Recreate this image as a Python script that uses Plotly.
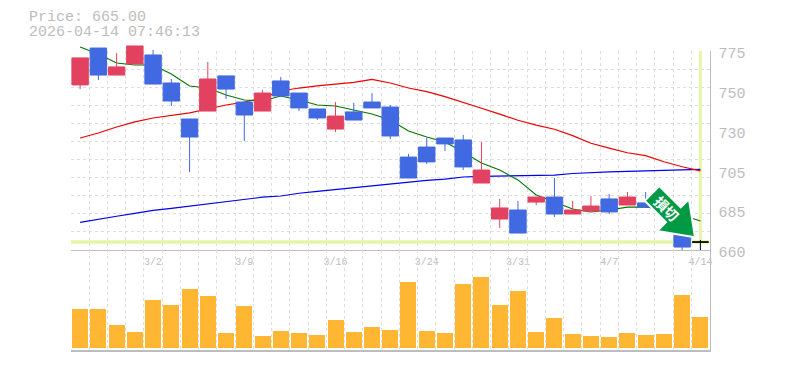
import plotly.graph_objects as go

dates = ["2/24","2/25","2/26","2/27","3/2","3/3","3/4","3/5","3/6","3/9","3/10","3/11","3/12","3/13","3/16","3/17","3/18","3/19","3/23","3/24","3/25","3/26","3/27","3/30","3/31","4/1","4/2","4/3","4/6","4/7","4/8","4/9","4/10","4/13","4/14"]
open_ = [755.4,776.7,761.1,767.5,772.7,756.5,735.7,740.3,760.6,745.5,740.3,757.7,750.7,741.5,729.9,739.8,745.5,742.6,713.7,719.5,724.7,723.6,698.7,677.9,683.1,687.7,690.6,680.8,682.5,689.5,686.0,687.2,688.9,669.2,664.6]
high = [771.0,776.7,773.8,777.9,775.6,758.8,735.7,768.6,760.6,745.5,752.5,760.0,750.7,741.5,745.5,745.0,750.7,743.8,715.5,724.7,724.7,726.5,722.4,689.5,688.3,690.6,701.6,688.3,691.2,692.4,693.5,693.5,690.0,669.2,665.8]
low = [753.0,758.2,761.1,767.5,755.9,743.2,705.1,740.3,747.3,723.0,740.3,748.4,740.3,735.1,728.2,735.1,742.1,724.1,701.6,709.7,717.2,706.2,698.7,672.7,669.8,686.0,679.1,680.8,682.5,680.8,686.0,684.8,683.7,660.0,660.0]
close = [771.0,761.1,765.8,777.9,755.9,746.1,725.3,758.8,753.0,738.0,750.7,749.0,742.1,736.3,737.4,735.1,742.1,725.9,701.6,710.9,721.3,708.0,706.2,684.3,669.8,690.6,680.8,683.1,685.4,682.0,690.6,684.8,683.7,661.7,664.6]
ma_short = [777.3,773.3,768.1,766.9,766.9,761.7,754.8,753.6,749.6,746.7,746.1,749.0,746.7,743.8,743.2,740.9,738.6,735.1,728.8,725.3,722.4,716.6,710.3,706.2,700.5,691.8,687.7,683.7,682.0,683.1,684.8,684.8,683.7,680.2,676.8]
ma_mid = [724.7,727.6,731.1,734.0,736.3,737.7,739.2,741.5,743.8,745.5,747.8,751.9,753.6,754.8,755.8,756.9,758.6,756.5,753.6,751.5,748.6,745.4,741.9,738.5,735.0,732.2,729.8,726.1,721.7,718.9,716.2,714.5,711.0,708.1,705.7]
ma_long = [676.0,677.9,679.5,681.2,682.9,684.1,685.4,687.0,687.9,689.3,690.5,691.2,692.8,693.9,695.0,695.8,697.0,698.1,699.3,700.2,701.0,702.2,702.6,702.8,702.9,703.2,703.3,704.2,704.8,705.1,705.4,705.7,705.9,706.2,706.6]
volume = [39,39,23,16,48,43,59,52,15,42,12,17,15,13,28,16,21,18,66,17,15,64,71,43,57,16,30,14,12,11,15,13,14,53,31]
price_ticks = [660,683,706,729,752,775]
price_labels = ["660","685","705","730","750","775"]
date_ticks = ["3/2","3/9","3/16","3/24","3/31","4/7","4/14"]
current_price = 664.6
header = ["Price: 665.00","2026-04-14 07:46:13"]

W, H = 785, 370
px = lambda x: x / W
py = lambda y: 1 - y / H
GREY = "#bdbdbd"
GRID = "#dddddd"
MONO = "Liberation Mono"
idx = list(range(len(dates)))
last = len(dates) - 1
dom_x = [px(71), px(709.5)]
PY_SCALE = 115 / 199.0
top_range = 660 + 210 * PY_SCALE

fig = go.Figure()
# carrier for the price grid subplot
fig.add_trace(go.Scatter(x=idx, y=close, xaxis="x", yaxis="y", mode="lines", line=dict(width=0), opacity=0, hoverinfo="skip"))
# lines live on the lower overlay so candles cover them
fig.add_trace(go.Scatter(x=[-0.5, 34.5], y=[current_price]*2, xaxis="x2", yaxis="y2", mode="lines", line=dict(color="#e6f5a5", width=3.5)))
fig.add_trace(go.Scatter(x=[last, last], y=[current_price, 775], xaxis="x2", yaxis="y2", mode="lines", line=dict(color="#e6f5a5", width=3)))
fig.add_trace(go.Scatter(x=idx, y=ma_long, xaxis="x2", yaxis="y2", mode="lines", line=dict(color="#0000ee", width=1.2)))
fig.add_trace(go.Scatter(x=idx, y=ma_mid, xaxis="x2", yaxis="y2", mode="lines", line=dict(color="#ee0000", width=1.2)))
fig.add_trace(go.Scatter(x=idx, y=ma_short, xaxis="x2", yaxis="y2", mode="lines", line=dict(color="#007700", width=1.1)))

RED, BLUE = "#e2425f", "#4169e1"
fig.add_trace(go.Candlestick(
    x=idx[:-1], open=open_[:-1], high=high[:-1], low=low[:-1], close=close[:-1],
    xaxis="x2", yaxis="y3", whiskerwidth=0,
    increasing=dict(line=dict(color=RED, width=1), fillcolor=RED),
    decreasing=dict(line=dict(color=BLUE, width=1), fillcolor=BLUE)))
fig.add_trace(go.Candlestick(
    x=idx[-1:], open=open_[-1:], high=high[-1:], low=low[-1:], close=close[-1:],
    xaxis="x2", yaxis="y3", whiskerwidth=0,
    increasing=dict(line=dict(color="#000000", width=1), fillcolor="#000000"),
    decreasing=dict(line=dict(color="#000000", width=1), fillcolor="#000000")))
fig.add_trace(go.Bar(x=idx, y=volume, xaxis="x3", yaxis="y4", width=0.877, marker=dict(color="#ffb733", line=dict(width=0))))

minor_x = dict(tick0=-0.5, dtick=1, showgrid=True, gridcolor=GRID, griddash="3px,3px", gridwidth=1, ticklen=0)
minor_y = dict(tick0=660, dtick=115/11, showgrid=True, gridcolor=GRID, griddash="3px,3px", gridwidth=1, ticklen=0)

tick_idx = [dates.index(d) for d in date_ticks]
fig.update_layout(
    width=W, height=H, showlegend=False, paper_bgcolor="white", plot_bgcolor="rgba(0,0,0,0)",
    margin=dict(l=0, r=0, t=0, b=0, pad=0, autoexpand=False), boxgap=0.1, boxgroupgap=0, bargap=0,
    xaxis=dict(domain=dom_x, range=[-0.5, 34.5], anchor="y", showgrid=False, zeroline=False, automargin=False,
               tickmode="array", tickvals=tick_idx, ticktext=date_ticks,
               tickfont=dict(family=MONO, size=10, color=GREY), ticklen=0, ticklabelstandoff=2,
               minor=minor_x, showline=True, linecolor=GREY, linewidth=1),
    yaxis=dict(domain=[py(250), py(51)], range=[660, 775], anchor="x", side="right", showgrid=False, zeroline=False, automargin=False,
               tickmode="array", tickvals=price_ticks, ticktext=price_labels,
               tickfont=dict(family=MONO, size=15, color=GREY), ticklen=0, ticklabelstandoff=5, ticklabelshift=2,
               minor=minor_y, showline=True, linecolor=GREY, linewidth=1),
    xaxis2=dict(domain=dom_x, range=[-0.5, 34.5], anchor="y2", visible=False, automargin=False, rangeslider=dict(visible=False)),
    yaxis2=dict(domain=[py(250), py(40)], range=[660, top_range], anchor="x2", visible=False, automargin=False),
    yaxis3=dict(range=[660, top_range], overlaying="y2", anchor="x2", visible=False, automargin=False),
    xaxis3=dict(domain=dom_x, range=[-0.5, 34.5], anchor="y4", showgrid=False, zeroline=False, showticklabels=False, ticklen=0, automargin=False,
                minor=minor_x, showline=True, linecolor=GREY, linewidth=2),
    yaxis4=dict(domain=[py(350), py(250)], range=[-2, 98], anchor="x3", side="right", showgrid=False, zeroline=False, automargin=False,
                showticklabels=False, ticklen=0, showline=True, linecolor=GREY, linewidth=1),
)

arrow = [(659.3,186),(680.7,207.3),(689,199.3),(695,237.3),(657.3,231),(666,222.3),(644.7,200.7)]
path = "M " + " L ".join(f"{px(a):.5f} {py(b):.5f}" for a, b in arrow) + " Z"
fig.add_shape(type="path", path=path, xref="paper", yref="paper", fillcolor="#009944", line=dict(color="white", width=2), layer="above")
fig.add_annotation(text="<b>損切</b>", xref="paper", yref="paper", x=px(666.5), y=py(208), showarrow=False, textangle=45,
                   font=dict(family="Noto Sans CJK JP", size=14, color="white"), xanchor="center", yanchor="middle")
for text, y in zip(header, (18, 33)):
    fig.add_annotation(text=text, xref="paper", yref="paper", x=px(29), y=py(y), showarrow=False, xanchor="left", yanchor="middle",
                       font=dict(family=MONO, size=15, color=GREY), xshift=-2)

fig.write_html("out.html", config=dict(displayModeBar=False), post_script="document.body.style.margin='0';document.body.style.overflow='hidden';")
